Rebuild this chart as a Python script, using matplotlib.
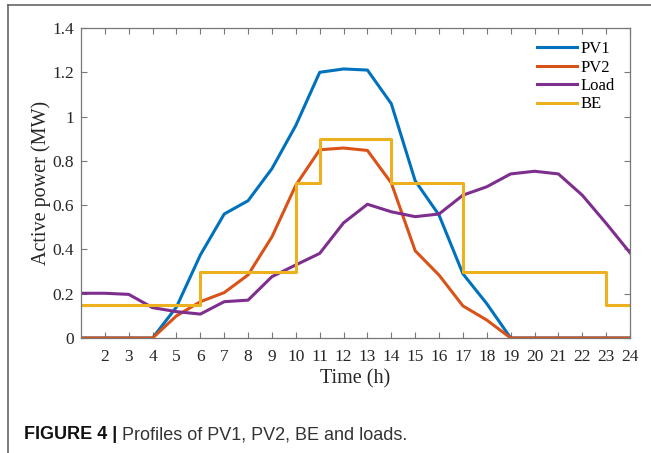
import numpy as np
import matplotlib
matplotlib.use('Agg')
import matplotlib.pyplot as plt
from matplotlib.lines import Line2D

# ---- data ----
hours = np.arange(1, 25)
pv1 = [0, 0, 0, 0, 0.14, 0.375, 0.56, 0.62, 0.765, 0.96, 1.2, 1.215,
       1.21, 1.058, 0.71, 0.555, 0.29, 0.155, 0, 0, 0, 0, 0, 0]
pv2 = [0, 0, 0, 0, 0.10, 0.164, 0.205, 0.285, 0.457, 0.69, 0.85, 0.858,
       0.847, 0.70, 0.394, 0.284, 0.145, 0.081, 0, 0, 0, 0, 0, 0]
load = [0.202, 0.202, 0.197, 0.137, 0.119, 0.108, 0.164, 0.171, 0.277, 0.33,
        0.382, 0.52, 0.604, 0.57, 0.548, 0.56, 0.645, 0.683, 0.741, 0.753,
        0.741, 0.645, 0.518, 0.385]
be = [0.15, 0.15, 0.15, 0.15, 0.15, 0.3, 0.3, 0.3, 0.3, 0.7, 0.9, 0.9,
      0.9, 0.7, 0.7, 0.7, 0.3, 0.3, 0.3, 0.3, 0.3, 0.3, 0.15, 0.15]

xticks = list(range(2, 25))
yticks = [0, 0.2, 0.4, 0.6, 0.8, 1.0, 1.2, 1.4]
ytick_labels = ['0', '0.2', '0.4', '0.6', '0.8', '1', '1.2', '1.4']

series = [('PV1', pv1, '#0072BD'),
          ('PV2', pv2, '#D95319'),
          ('Load', load, '#7E2F8E')]

serif = ['Liberation Serif', 'DejaVu Serif']
W, H = 651, 453

fig = plt.figure(figsize=(W / 100, H / 100), dpi=100)
ax = fig.add_axes([81 / W, 1 - 338 / H, (630 - 81) / W, (338 - 28) / H])

for name, vals, col in series:
    ax.plot(hours, vals, color=col, lw=2.2, label=name)
ax.step(hours, be, where='post', color='#EDB120', lw=2.2, label='BE')

ax.set_xlim(1, 24)
ax.set_ylim(0, 1.4)
ax.set_xticks(xticks)
ax.set_xticklabels([str(t) for t in xticks], fontfamily=serif, fontsize=12.5, color='#262626')
ax.set_yticks(yticks)
ax.set_yticklabels(ytick_labels, fontfamily=serif, fontsize=12.5, color='#262626')
ax.tick_params(direction='in', length=4, width=0.8, color='#777777',
               top=True, right=True, pad=5)
ax.tick_params(axis='x', pad=8)
for s in ax.spines.values():
    s.set_color('#777777')
    s.set_linewidth(0.9)

ax.set_xlabel('Time (h)', fontfamily=serif, fontsize=14.5, color='#262626', labelpad=3)
ax.set_ylabel('Active power (MW)', fontfamily=serif, fontsize=14.5, color='#262626', labelpad=1)

ax.legend(loc='upper left', bbox_to_anchor=(537 / W, 1 - 41 / H),
          bbox_transform=fig.transFigure, frameon=False, borderpad=0,
          borderaxespad=0, handlelength=2.4, handletextpad=0.2,
          labelspacing=0.15, prop={'family': serif, 'size': 12})

# page frame lines
fig.add_artist(Line2D([8 / W, 1], [1 - 5 / H, 1 - 5 / H], color='#666666', lw=1.2))
fig.add_artist(Line2D([8 / W, 8 / W], [0, 1 - 5 / H], color='#666666', lw=1.2))

# caption
sans = ['Liberation Sans', 'DejaVu Sans']
t1 = fig.text(24 / W, 1 - 439 / H, 'FIGURE 4 |', fontfamily=sans, fontweight='bold',
              fontsize=13, color='#111111')
ax.annotate(' Profiles of PV1, PV2, BE and loads.', xy=(1, 0), xycoords=t1,
            va='bottom', ha='left', fontfamily=sans, fontsize=13, color='#333333',
            annotation_clip=False)

fig.savefig('out.png', dpi=100)
